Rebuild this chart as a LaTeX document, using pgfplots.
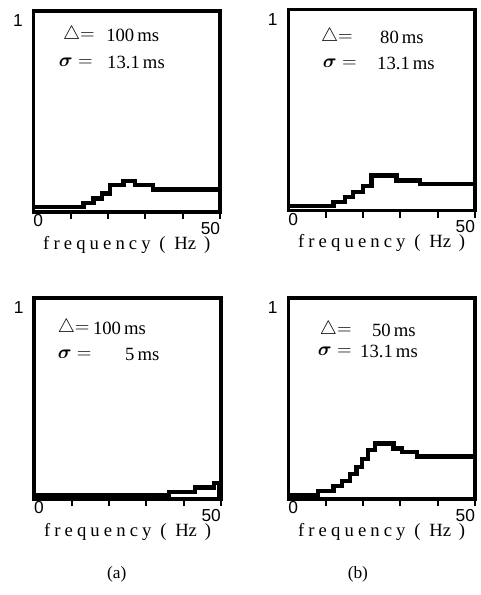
\documentclass[border=0pt]{standalone}
\usepackage{fontspec}
\setmainfont{Liberation Serif}
\setsansfont{Liberation Sans}
\newfontfamily\spaced[LetterSpace=22]{Liberation Serif}
\usepackage{amsmath}
\usepackage{pgfplots}
\pgfplotsset{compat=1.18}

\pgfplotsset{
  panel/.style={
    scale only axis, width=140pt, height=150.75pt,
    xmin=0, xmax=50, ymin=0, ymax=1.05,
    axis line style={line width=2.6pt},
    tick pos=left, tick align=outside,
    xtick={10,20,30,40,50}, xticklabels={,,,,\llap{50}},
    extra x ticks={0}, extra x tick labels={\rlap{0}},
    extra x tick style={major tick length=0pt},
    ytick={1}, ytick style={draw=none},
    major tick length=5.5pt,
    x tick style={line width=1.5pt, black},
    tick label style={font=\sffamily\fontsize{13}{14}\selectfont},
    x tick label style={yshift=1.5pt},
    y tick label style={xshift=1pt},
    /pgf/number format/assume math mode=true,
    clip=false,
  },
  curve/.style={const plot, black, line width=3.2pt, no marks},
}
\tikzset{
  ann/.style={font=\fontsize{14}{16}\selectfont, inner sep=0pt},
  xlab/.style={font=\fontsize{14}{16}\selectfont},
}
\newcommand\freq{{\spaced frequency ( }Hz\ \,)}

\begin{document}
\begin{tikzpicture}
\useasboundingbox (0,0) rectangle (360pt,446.25pt);

% top left
\begin{axis}[panel, at={(25.05pt,287.25pt)}]
\addplot[curve] coordinates {
  (0,0.026) (13.4,0.047) (16.1,0.07) (18.3,0.097) (20.5,0.14)
  (24.1,0.163) (27.2,0.14) (32.1,0.118) (50,0.118)
};
\node[ann,anchor=east] at (rel axis cs:0.330,0.881) {$\triangle{=}$};
\node[ann,anchor=west] at (rel axis cs:0.389,0.881) {100\,ms};
\node[ann,anchor=east] at (rel axis cs:0.319,0.746) {$\boldsymbol{\sigma}=$};
\node[ann,anchor=west] at (rel axis cs:0.394,0.746) {13.1\,ms};
\node[xlab] at (rel axis cs:0.5,0) [yshift=-24.5pt] {\freq};
\end{axis}

% top right
\begin{axis}[panel, at={(216.2pt,288.2pt)}]
\addplot[curve] coordinates {
  (0,0.026) (12.1,0.047) (15.2,0.07) (17.4,0.097) (20.1,0.13)
  (22.3,0.184) (29,0.158) (35.3,0.139) (50,0.139)
};
\node[ann,anchor=east] at (rel axis cs:0.347,0.864) {$\triangle{=}$};
\node[ann,anchor=west] at (rel axis cs:0.491,0.864) {80\,ms};
\node[ann,anchor=east] at (rel axis cs:0.368,0.735) {$\boldsymbol{\sigma}=$};
\node[ann,anchor=west] at (rel axis cs:0.475,0.735) {13.1\,ms};
\node[xlab] at (rel axis cs:0.5,0) [yshift=-24.5pt] {\freq};
\end{axis}

% bottom left
\begin{axis}[panel, at={(25.65pt,72pt)}]
\addplot[curve] coordinates {
  (0,0.02) (36.2,0.035) (43.1,0.06) (48.2,0.085) (49.6,0) (50,0)
};
\node[ann,anchor=east] at (rel axis cs:0.298,0.851) {$\triangle{=}$};
\node[ann,anchor=west] at (rel axis cs:0.314,0.851) {100\,ms};
\node[ann,anchor=east] at (rel axis cs:0.309,0.721) {$\boldsymbol{\sigma}=$};
\node[ann,anchor=west] at (rel axis cs:0.486,0.721) {5\,ms};
\node[xlab] at (rel axis cs:0.5,0) [yshift=-25pt] {\freq};
\node[font=\fontsize{13}{15}\selectfont] at (rel axis cs:0.442,-0.373) {(a)};
\end{axis}

% bottom right
\begin{axis}[panel, at={(216.2pt,72pt)}]
\addplot[curve] coordinates {
  (0,0.02) (8,0.043) (12.1,0.067) (14.3,0.093) (16.5,0.13)
  (18.3,0.167) (19.8,0.21) (21.4,0.256) (23.2,0.29) (28.2,0.264)
  (30.4,0.244) (34.4,0.222) (50,0.222)
};
\node[ann,anchor=east] at (rel axis cs:0.341,0.841) {$\triangle{=}$};
\node[ann,anchor=west] at (rel axis cs:0.448,0.841) {50\,ms};
\node[ann,anchor=east] at (rel axis cs:0.341,0.736) {$\boldsymbol{\sigma}=$};
\node[ann,anchor=west] at (rel axis cs:0.384,0.736) {13.1\,ms};
\node[xlab] at (rel axis cs:0.5,0) [yshift=-25pt] {\freq};
\node[font=\fontsize{13}{15}\selectfont] at (rel axis cs:0.373,-0.373) {(b)};
\end{axis}
\end{tikzpicture}
\end{document}
